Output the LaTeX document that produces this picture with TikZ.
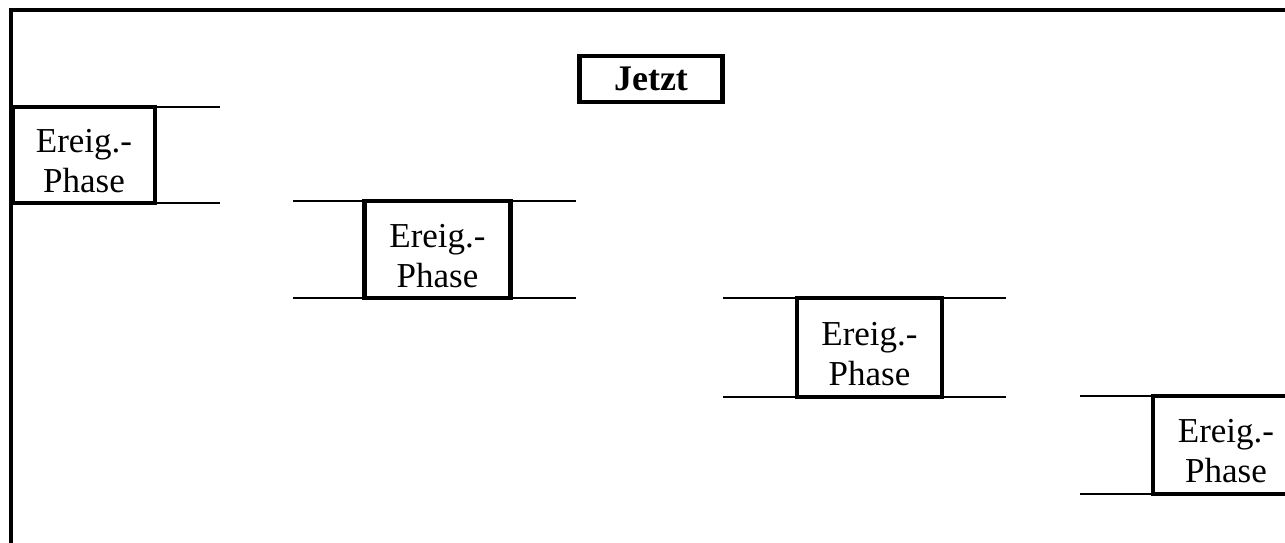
\documentclass[tikz,border=0pt]{standalone}
\usepackage{fontspec}
\setmainfont{Liberation Serif}
\newcommand{\ptxt}{\rule{0pt}{36pt}Ereig.-\\Phase}
\begin{document}
\begin{tikzpicture}[x=1pt,y=-1pt,
  phase/.style={draw,line width=4.5pt,fill=white,inner sep=0pt,align=center,
    font=\fontsize{35}{40}\selectfont},
  jetztbox/.style={draw,line width=4.5pt,inner sep=0pt,minimum width=143pt,minimum height=46pt,
    font=\fontsize{36}{40}\selectfont\bfseries},
  level/.style={line width=2.8pt},
  frame/.style={line width=3.2pt}]
\useasboundingbox (0,0) rectangle (1285,542);
\clip (0,0) rectangle (1285,542);
% frame
\coordinate (ftl) at (11,10);
\coordinate (ftr) at (1290,10);
\coordinate (fbl) at (11,545);
\draw[frame] (ftr) -- (ftl) -- (fbl);
% Jetzt
\node[jetztbox] (jetzt) at (651,79) {Jetzt};
% level lines
\coordinate (a1) at (11,107);  \coordinate (b1) at (220,107);
\coordinate (c1) at (11,203);  \coordinate (d1) at (220,203);
\coordinate (a2) at (293,201); \coordinate (b2) at (576,201);
\coordinate (c2) at (293,298); \coordinate (d2) at (576,298);
\coordinate (a3) at (723,298); \coordinate (b3) at (1006,298);
\coordinate (c3) at (723,397); \coordinate (d3) at (1006,397);
\coordinate (a4) at (1080,396); \coordinate (b4) at (1290,396);
\coordinate (c4) at (1080,494); \coordinate (d4) at (1290,494);
\draw[level] (a1) -- (b1) (c1) -- (d1);
\draw[level] (a2) -- (b2) (c2) -- (d2);
\draw[level] (a3) -- (b3) (c3) -- (d3);
\draw[level] (a4) -- (b4) (c4) -- (d4);
% phase boxes
\node[phase,minimum width=142pt,minimum height=96pt] (p1) at (84,155) {\ptxt};
\node[phase,minimum width=146pt,minimum height=97pt] (p2) at (437.5,249.5) {\ptxt};
\node[phase,minimum width=145pt,minimum height=99pt] (p3) at (869.5,347.5) {\ptxt};
\node[phase,minimum width=146pt,minimum height=98pt] (p4) at (1226,445) {\ptxt};
\end{tikzpicture}
\end{document}
